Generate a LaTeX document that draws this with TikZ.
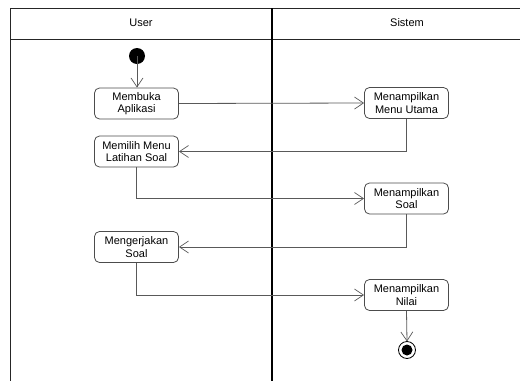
\documentclass[tikz,border=0pt]{standalone}
\usepackage{fontspec}
\setmainfont{Liberation Sans}
\usetikzlibrary{arrows.meta}
\begin{document}
\begin{tikzpicture}[x=1pt,y=-1pt,
  lane/.style={draw=black!85,line width=0.9pt},
  act/.style={draw=black!70,line width=0.8pt,rounded corners=5pt,fill=white,
    minimum width=84pt,minimum height=31pt,align=center,inner sep=1pt,
    font=\fontsize{11}{12.5}\selectfont},
  flow/.style={draw=black!65,line width=0.8pt,
    -{Straight Barb[length=9pt,width=12pt,line width=0.7pt]}},
  hdr/.style={font=\fontsize{11}{12.5}\selectfont}]
\useasboundingbox (0,0) rectangle (520,381);
% swimlane frame
\draw[lane] (520,8) -- (10,8) -- (10,381);
\draw[lane] (10,39) -- (520,39);
\draw[draw=black,line width=1.5pt] (272,8) -- (272,381);
\node[hdr] (hUser) at (141,23) {User};
\node[hdr] (hSistem) at (407,23) {Sistem};
% activities
\fill[black] (137,56) circle (8) coordinate (start);
\node[act] (buka) at (136.5,103.5) {Membuka\\Aplikasi};
\node[act] (menu) at (406.5,103) {Menampilkan\\Menu Utama};
\node[act] (pilih) at (136.5,151.5) {Memilih Menu\\Latihan Soal};
\node[act] (soal) at (406.5,198.5) {Menampilkan\\Soal};
\node[act] (kerja) at (136.5,247) {Mengerjakan\\Soal};
\node[act] (nilai) at (406.5,295) {Menampilkan\\Nilai};
\draw[black,line width=0.8pt,fill=white] (407,350) circle (8.5);
\fill[black] (407,350) circle (5.5);
\coordinate (finish) at (407,341.5);
% control flow
\draw[flow] (start) -- (buka.north -| start);
\draw[flow] (buka.east) -- (menu.west);
\draw[flow] (menu.south) |- (pilih.east);
\draw[flow] (pilih.south) |- (soal.west);
\draw[flow] (soal.south) |- (kerja.east);
\draw[flow] (kerja.south) |- (nilai.west);
\draw[flow] (nilai.south) -- (finish);
\end{tikzpicture}
\end{document}
